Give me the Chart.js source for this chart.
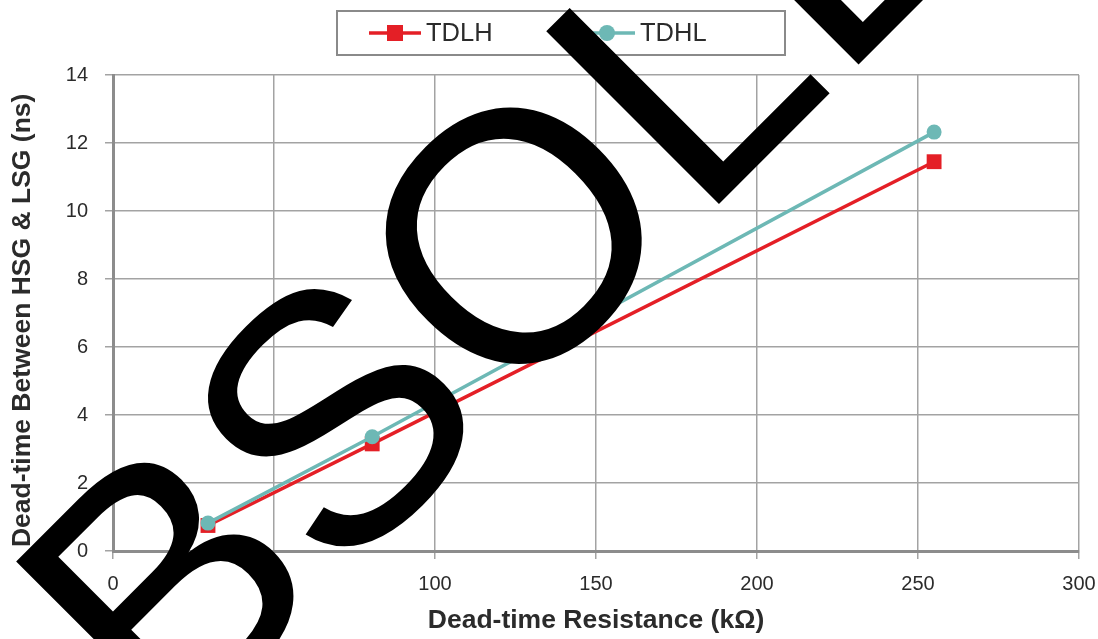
<!DOCTYPE html>
<html>
<head>
<meta charset="utf-8">
<script src="https://cdn.jsdelivr.net/npm/chart.js@4.4.1/dist/chart.umd.min.js"></script>
<style>
  html, body { margin: 0; padding: 0; background: #fff; }
  #wrap { width: 1098px; height: 639px; }
</style>
</head>
<body>
<div id="wrap"><canvas id="chart" width="1098" height="639"></canvas></div>
<script>
// values
const resistance = [29.5, 80.5, 255];        // kOhm
const tdlh = [0.75, 3.15, 11.45];            // ns
const tdhl = [0.82, 3.36, 12.32];            // ns
const seriesNames = ['TDLH', 'TDHL'];
const xTicks = [0, 50, 100, 150, 200, 250, 300];
const yTicks = [0, 2, 4, 6, 8, 10, 12, 14];

const RED = '#e41f26';
const TEAL = '#6db8b5';
const INK = '#2b2b2b';
const GRID = '#a3a3a3';
const FONT = '"Liberation Sans", Arial, sans-serif';

const toPoints = ys => resistance.map((x, i) => ({ x: x, y: ys[i] }));

// legend box at the top, drawn on the canvas
const boxLegend = {
  id: 'boxLegend',
  afterDraw(chart) {
    const c = chart.ctx;
    c.save();
    c.strokeStyle = '#8a8a8a';
    c.lineWidth = 2;
    c.strokeRect(337, 11, 448, 44);
    const starts = [369, 583];
    chart.data.datasets.forEach((ds, i) => {
      const x0 = starts[i], y = 33;
      c.strokeStyle = ds.borderColor;
      c.lineWidth = 3.5;
      c.beginPath();
      c.moveTo(x0, y);
      c.lineTo(x0 + 52, y);
      c.stroke();
      c.fillStyle = ds.borderColor;
      if (ds.pointStyle === 'rect') {
        c.fillRect(x0 + 18, y - 8, 16, 16);
      } else {
        c.beginPath();
        c.arc(x0 + 24, y, 8, 0, Math.PI * 2);
        c.fill();
      }
      c.fillStyle = INK;
      c.font = '25.5px ' + FONT;
      c.textBaseline = 'middle';
      c.fillText(ds.label, x0 + 57, y + 1);
    });
    c.restore();
  }
};

// the big diagonal watermark over the chart
const watermark = {
  id: 'watermark',
  afterDraw(chart) {
    const c = chart.ctx;
    c.save();
    c.translate(-27, 950);
    c.rotate(-Math.PI / 4);
    c.fillStyle = '#000';
    c.font = '355px ' + FONT;
    c.textBaseline = 'alphabetic';
    c.fillText('OBSOLETE', 0, 0);
    c.restore();
  }
};

new Chart(document.getElementById('chart'), {
  type: 'line',
  data: {
    datasets: [
      {
        label: seriesNames[0],
        data: toPoints(tdlh),
        borderColor: RED,
        backgroundColor: RED,
        borderWidth: 3.5,
        pointStyle: 'rect',
        pointRadius: 10.5,
        pointBorderWidth: 0,
        tension: 0,
        order: 1
      },
      {
        label: seriesNames[1],
        data: toPoints(tdhl),
        borderColor: TEAL,
        backgroundColor: TEAL,
        borderWidth: 3.5,
        pointStyle: 'circle',
        pointRadius: 7.5,
        pointBorderWidth: 0,
        tension: 0,
        order: 0
      }
    ]
  },
  options: {
    responsive: false,
    animation: false,
    devicePixelRatio: 1,
    layout: { padding: { top: 75, right: 19, left: 0, bottom: 0 } },
    plugins: {
      legend: { display: false },
      tooltip: { enabled: false }
    },
    scales: {
      x: {
        type: 'linear',
        min: 0,
        max: 300,
        afterBuildTicks: s => { s.ticks = xTicks.map(v => ({ value: v })); },
        afterFit: s => { s.height = 88; s.paddingLeft = 0; s.paddingRight = 0; },
        grid: { color: GRID, lineWidth: 1.5, tickLength: 8 },
        border: { color: '#8c8c8c', width: 3 },
        ticks: {
          color: INK,
          padding: 13,
          maxRotation: 0,
          font: { family: FONT, size: 20 }
        },
        title: {
          display: true,
          text: 'Dead-time Resistance (kΩ)',
          color: INK,
          padding: { top: 0, bottom: 2 },
          font: { family: FONT, size: 26.5, weight: 'bold' }
        }
      },
      y: {
        min: 0,
        max: 14,
        afterBuildTicks: s => { s.ticks = yTicks.map(v => ({ value: v })); },
        afterFit: s => { s.width = 113; s.paddingTop = 0; s.paddingBottom = 0; },
        grid: { color: GRID, lineWidth: 1.5, tickLength: 8 },
        border: { color: '#8c8c8c', width: 3 },
        ticks: {
          color: INK,
          padding: 17,
          font: { family: FONT, size: 20 }
        },
        title: {
          display: true,
          // two trailing spaces nudge the centred title a little lower, as in the original
          text: 'Dead-time Between HSG & LSG (ns)  ',
          color: INK,
          padding: { top: 7, bottom: 0 },
          font: { family: FONT, size: 26.5, weight: 'bold' }
        }
      }
    }
  },
  plugins: [boxLegend, watermark]
});
</script>
</body>
</html>
